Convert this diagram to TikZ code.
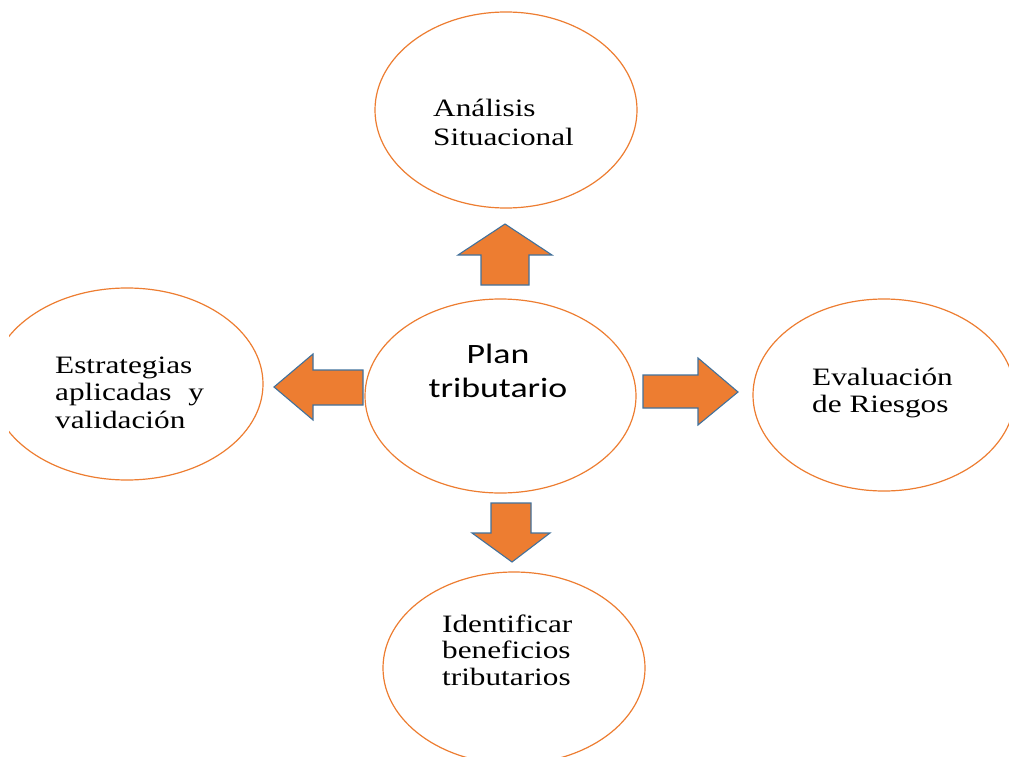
\documentclass[tikz,border=0pt]{standalone}
\usepackage{fontspec}
\usetikzlibrary{shapes.geometric}
\newfontfamily\lblfont{Liberation Serif}[FakeStretch=1.25]
\newfontfamily\cenfont{Carlito}[FakeStretch=1.28]
\definecolor{orng}{HTML}{ED7D31}
\definecolor{arrblue}{HTML}{41719C}
\tikzset{
  oval/.style={ellipse, draw=orng, line width=1.2pt, inner sep=0pt, fill=white},
  lbl/.style={anchor=base west, inner sep=0pt, align=left, font=\lblfont\fontsize{25}{28}\selectfont},
  blockarrow/.style={fill=orng, draw=arrblue, line width=1.1pt, line join=miter}
}
\begin{document}
\begin{tikzpicture}[x=1pt,y=-1pt]
\useasboundingbox (0,0) rectangle (1009,757);
\clip (9,0) rectangle (1009,757);
% ellipses
\node[oval, minimum width=262pt, minimum height=196pt] (top) at (506,110) {};
\node[oval, minimum width=271pt, minimum height=194pt] (center) at (500.5,396) {};
\node[oval, minimum width=272pt, minimum height=192pt] (left) at (127,384) {};
\node[oval, minimum width=262pt, minimum height=192pt] (right) at (884,395) {};
\node[oval, minimum width=262pt, minimum height=192pt] (bottom) at (514,668) {};
% texts (base anchor = baseline of last line)
\node[lbl, font=\lblfont\fontsize{25}{29}\selectfont] (ttop) at (433,146) {Análisis\\Situacional};
\node[lbl, font=\lblfont\fontsize{25}{27.5}\selectfont] (tleft) at (55,428) {Estrategias\\aplicadas\hspace{9pt} y\\validación};
\node[lbl, font=\lblfont\fontsize{25}{27}\selectfont] (tright) at (812,412) {Evaluación\\de Riesgos};
\node[lbl, font=\lblfont\fontsize{25}{26.5}\selectfont] (tbottom) at (442,685) {Identificar\\beneficios\\tributarios};
\node[anchor=base, inner sep=0pt, align=center, font=\cenfont\fontsize{28}{34}\selectfont] (tcenter) at (498,397) {Plan\\tributario};
% block arrows
\draw[blockarrow] (481,285) -- (481,255) -- (458,255) -- (505,224) -- (552,255) -- (529,255) -- (529,285) -- cycle;
\draw[blockarrow] (363,370) -- (313,370) -- (313,354) -- (274,387) -- (313,420) -- (313,405) -- (363,405) -- cycle;
\draw[blockarrow] (643,375) -- (698,375) -- (698,358) -- (738,392) -- (698,425) -- (698,408) -- (643,408) -- cycle;
\draw[blockarrow] (491,503) -- (531,503) -- (531,533) -- (550,533) -- (512,562) -- (472,533) -- (491,533) -- cycle;
\end{tikzpicture}
\end{document}
